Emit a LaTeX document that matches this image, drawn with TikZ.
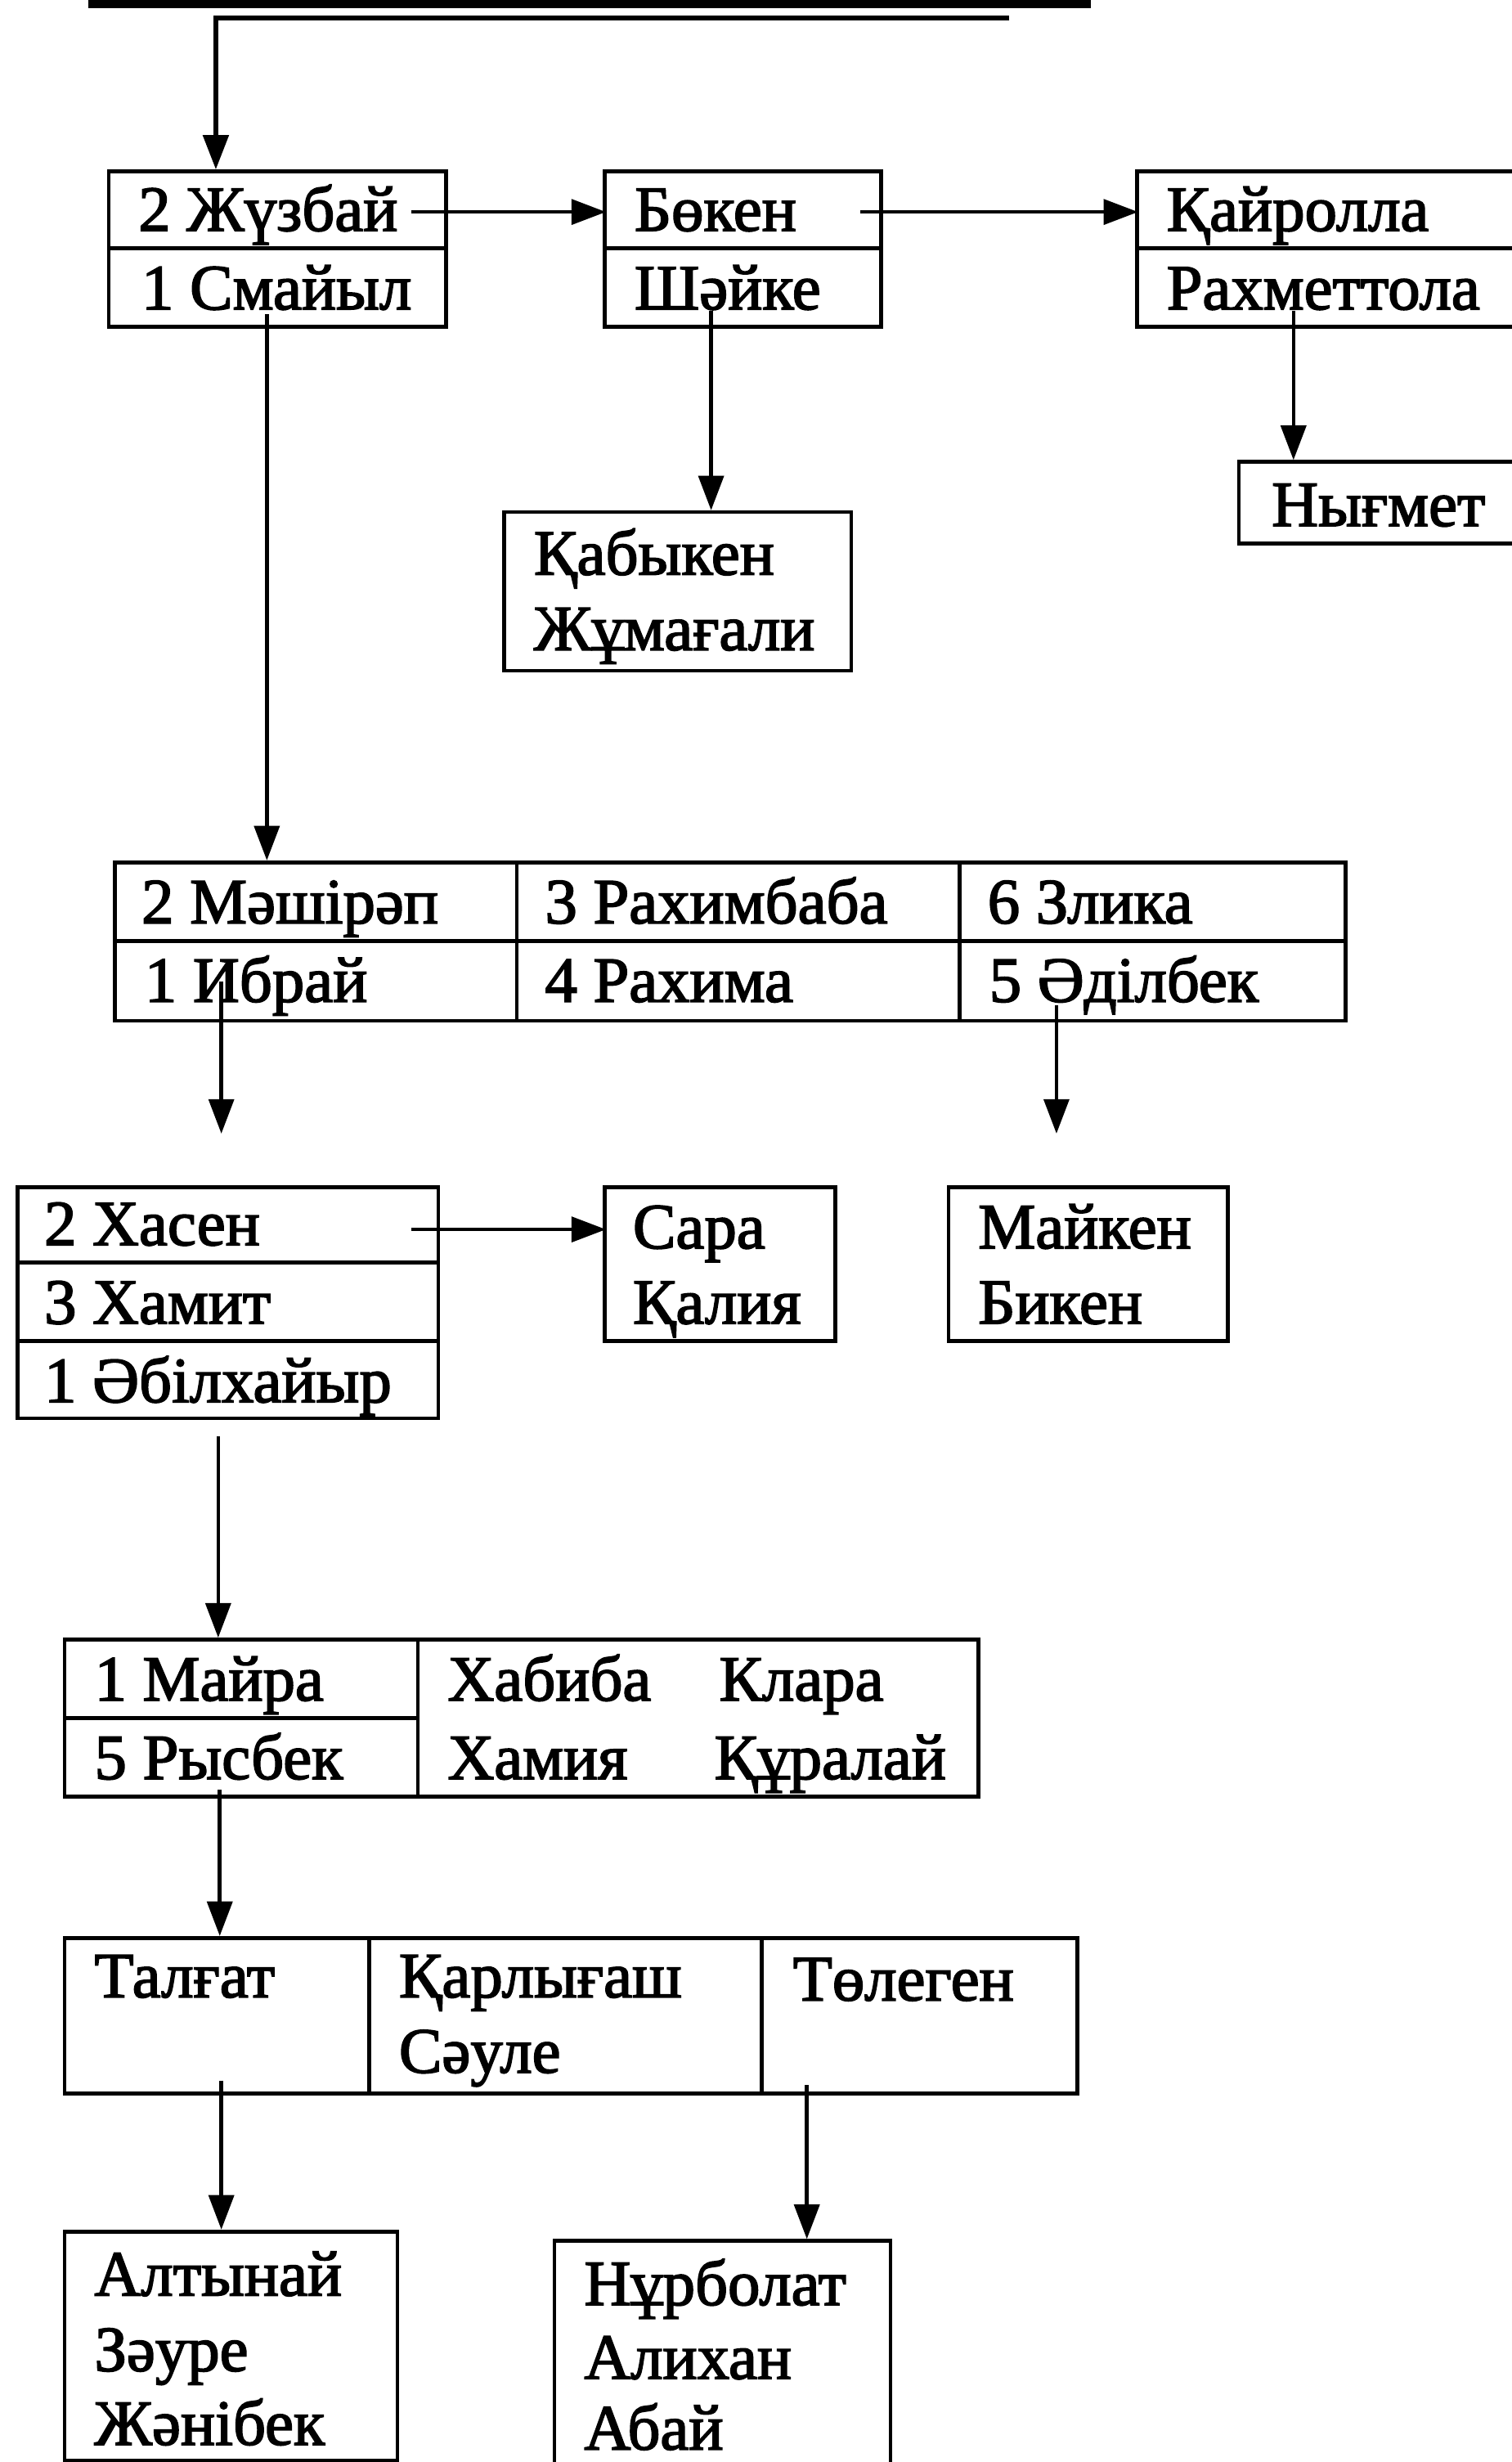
\documentclass[tikz,border=0pt]{standalone}
\usepackage{fontspec}
\newfontfamily\nf{Liberation Serif}[RawFeature={embolden=2.2}]
\usetikzlibrary{arrows.meta}
\tikzset{
  cell/.style={draw, line width=2.4pt, rectangle, inner sep=0pt, anchor=north west},
  nm/.style={anchor=base west, inner sep=0pt, font=\nf\fontsize{41pt}{49pt}\selectfont},
  conn/.style={line width=2.4pt, -{Triangle[width=16pt,length=22pt]}},
}
\begin{document}
\begin{tikzpicture}[x=1pt,y=1pt]
\useasboundingbox (0,0) rectangle (963,-1568);
\fill[white] (0,0) rectangle (963,-1568);

% ---- top lines
\coordinate (La) at (56,-2.5);
\coordinate (Lb) at (695,-2.5);
\coordinate (Lc) at (643,-11.5);
\coordinate (Ld) at (137.5,-11.5);
\draw[line width=5pt] (La) -- (Lb);

% ---- row 1
\node[cell, minimum width=215pt, minimum height=49pt] (A1) at (68,-108) {};
\node[cell, minimum width=215pt, minimum height=50pt] (A2) at (68,-157) {};
\node[nm] (tA1) at (88,-147) {2 Жүзбай};
\node[nm] (tA2) at (90,-197) {1 Смайыл};

\node[cell, minimum width=176pt, minimum height=49pt] (B1) at (384,-108) {};
\node[cell, minimum width=176pt, minimum height=50pt] (B2) at (384,-157) {};
\node[nm] (tB1) at (404,-147) {Бөкен};
\node[nm] (tB2) at (404,-197) {Шәйке};

\node[cell, minimum width=270pt, minimum height=49pt] (C1) at (723,-108) {};
\node[cell, minimum width=270pt, minimum height=50pt] (C2) at (723,-157) {};
\node[nm] (tC1) at (743,-147) {Қайролла};
\node[nm] (tC2) at (743,-197) {Рахметтола};

\node[cell, minimum width=210pt, minimum height=52pt] (N) at (788,-293) {};
\node[nm] (tN) at (810,-335) {Нығмет};

\node[cell, minimum width=221pt, minimum height=101pt] (K) at (320,-325) {};
\node[nm] (tK1) at (340,-366) {Қабыкен};
\node[nm] (tK2) at (340,-414) {Жұмағали};

% ---- table 2
\node[cell, minimum width=256pt, minimum height=50pt] (T2a1) at (72,-548) {};
\node[cell, minimum width=256pt, minimum height=51pt] (T2a2) at (72,-598) {};
\node[cell, minimum width=282pt, minimum height=50pt] (T2b1) at (328,-548) {};
\node[cell, minimum width=282pt, minimum height=51pt] (T2b2) at (328,-598) {};
\node[cell, minimum width=246pt, minimum height=50pt] (T2c1) at (610,-548) {};
\node[cell, minimum width=246pt, minimum height=51pt] (T2c2) at (610,-598) {};
\node[nm] (tT2a1) at (90,-588) {2 Мәшірәп};
\node[nm] (tT2b1) at (347,-588) {3 Рахимбаба};
\node[nm] (tT2c1) at (629,-588) {6 Злика};
\node[nm] (tT2a2) at (92,-638) {1 Ибрай};
\node[nm] (tT2b2) at (347,-638) {4 Рахима};
\node[nm] (tT2c2) at (630,-638) {5 Әділбек};

% ---- row 3
\node[cell, minimum width=268pt, minimum height=48pt] (H1) at (10,-755) {};
\node[cell, minimum width=268pt, minimum height=50pt] (H2) at (10,-803) {};
\node[cell, minimum width=268pt, minimum height=49pt] (H3) at (10,-853) {};
\node[nm] (tH1) at (28,-793) {2 Хасен};
\node[nm] (tH2) at (28,-843) {3 Хамит};
\node[nm] (tH3) at (28,-893) {1 Әбілхайыр};

\node[cell, minimum width=147pt, minimum height=98pt] (S) at (384,-755) {};
\node[nm] (tS1) at (403,-795) {Сара};
\node[nm] (tS2) at (403,-843) {Қалия};

\node[cell, minimum width=178pt, minimum height=98pt] (M) at (603,-755) {};
\node[nm] (tM1) at (623,-795) {Майкен};
\node[nm] (tM2) at (623,-843) {Бикен};

% ---- table 3
\node[cell, minimum width=225pt, minimum height=50pt] (T3a1) at (40,-1043) {};
\node[cell, minimum width=225pt, minimum height=50pt] (T3a2) at (40,-1093) {};
\node[cell, minimum width=357pt, minimum height=100pt] (T3b) at (265,-1043) {};
\node[nm] (tT3a1) at (60,-1083) {1 Майра};
\node[nm] (tT3a2) at (60,-1133) {5 Рысбек};
\node[nm] (tT3b1) at (285,-1083) {Хабиба};
\node[nm] (tT3b2) at (458,-1083) {Клара};
\node[nm] (tT3b3) at (285,-1133) {Хамия};
\node[nm] (tT3b4) at (455,-1133) {Құралай};

% ---- table 4
\node[cell, minimum width=194pt, minimum height=99pt] (T4a) at (40,-1233) {};
\node[cell, minimum width=250pt, minimum height=99pt] (T4b) at (234,-1233) {};
\node[cell, minimum width=201pt, minimum height=99pt] (T4c) at (484,-1233) {};
\node[nm] (tT4a) at (60,-1272) {Талғат};
\node[nm] (tT4b1) at (254,-1272) {Қарлығаш};
\node[nm] (tT4b2) at (254,-1320) {Сәуле};
\node[nm] (tT4c) at (505,-1274) {Төлеген};

% ---- bottom boxes
\node[cell, minimum width=212pt, minimum height=146pt] (P) at (40,-1420) {};
\node[nm] (tP1) at (60,-1462) {Алтынай};
\node[nm] (tP2) at (60,-1510) {Зәуре};
\node[nm] (tP3) at (60,-1557) {Жәнібек};

\node[cell, minimum width=214pt, minimum height=170pt] (Q) at (352,-1426) {};
\node[nm] (tQ1) at (372,-1468) {Нұрболат};
\node[nm] (tQ2) at (372,-1515) {Алихан};
\node[nm] (tQ3) at (372,-1560) {Абай};

% ---- connector start / free-end points
\coordinate (sJ) at (262,-135);
\coordinate (sB) at (548,-135);
\coordinate (sR) at (824,-198);
\coordinate (sSh) at (453,-198);
\coordinate (sSm) at (170,-200);
\coordinate (sI) at (141,-625);
\coordinate (eI) at (141,-722);
\coordinate (sAd) at (673,-640);
\coordinate (eAd) at (673,-722);
\coordinate (sX) at (262,-783);
\coordinate (sH) at (139,-915);
\coordinate (sRy) at (140,-1140);
\coordinate (sT) at (141,-1325);
\coordinate (sTo) at (514,-1328);

% ---- connectors
\draw[conn, line width=3.2pt] (Lc) -- (Ld) -- (Ld |- A1.north);
\draw[conn] (sJ) -- ([xshift=2pt]sJ -| B1.west);
\draw[conn] (sB) -- ([xshift=2pt]sB -| C1.west);
\draw[conn] (sR) -- (sR |- N.north);
\draw[conn] (sSh) -- (sSh |- K.north);
\draw[conn] (sSm) -- (sSm |- T2a1.north);
\draw[conn] (sI) -- (eI);
\draw[conn] (sAd) -- (eAd);
\draw[conn] (sX) -- ([xshift=2pt]sX -| S.west);
\draw[conn] (sH) -- (sH |- T3a1.north);
\draw[conn] (sRy) -- (sRy |- T4a.north);
\draw[conn] (sT) -- (sT |- P.north);
\draw[conn] (sTo) -- (sTo |- Q.north);
\end{tikzpicture}
\end{document}
